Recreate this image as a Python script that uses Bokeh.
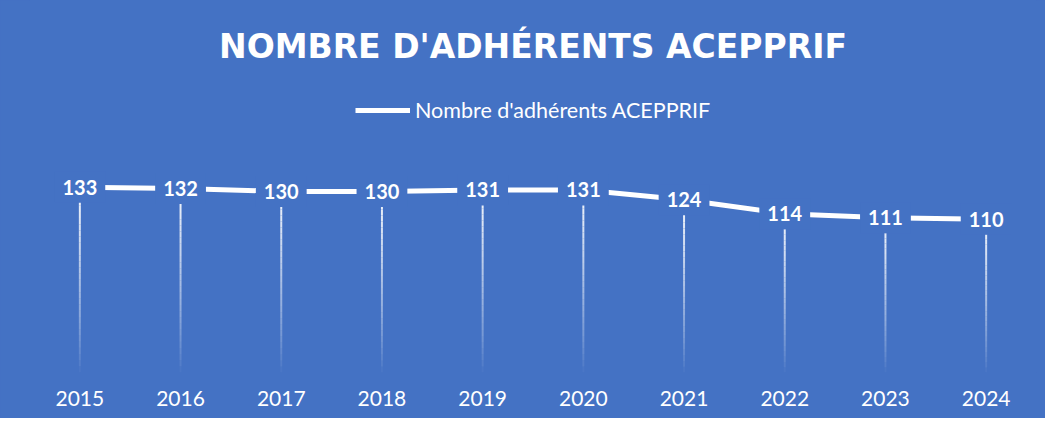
from bokeh.plotting import figure
from bokeh.models import FactorRange, Label, Legend, LegendItem, ColumnDataSource
from bokeh.core.properties import value
from bokeh.embed import file_html
from bokeh.resources import INLINE

years = ["2015", "2016", "2017", "2018", "2019", "2020", "2021", "2022", "2023", "2024"]
members = [133, 132, 130, 130, 131, 131, 124, 114, 111, 110]
series_name = "Nombre d'adhérents ACEPPRIF"
title_text = "NOMBRE D'ADHÉRENTS ACEPPRIF"

BLUE = "#4472C4"

p = figure(width=1045, height=418, x_range=FactorRange(*years, range_padding=0),
           y_range=(0, 267), output_backend="svg", toolbar_location=None,
           background_fill_color=BLUE, border_fill_color=BLUE,
           min_border_left=29, min_border_right=9, min_border_top=0, min_border_bottom=46,
           styles={"background-color": BLUE})
p.outline_line_color = None

p.grid.visible = False
p.yaxis.visible = False
p.xaxis.axis_line_color = None
p.xaxis.major_tick_line_color = None
p.xaxis.minor_tick_line_color = None
p.xaxis.major_label_text_color = "white"
p.xaxis.major_label_text_font = "Lato"
p.xaxis.major_label_text_font_size = "21px"
p.xaxis.major_label_standoff = 12

# fading drop lines (gradient approximated by stacked segments)
N = 30
xs, y0s, y1s, alphas = [], [], [], []
for yr, v in zip(years, members):
    for k in range(N):
        xs.append(yr)
        y0s.append(v * k / N)
        y1s.append(v * (k + 1) / N)
        alphas.append(0.95 * ((k + 0.5) / N) ** 0.8)
p.segment(x0=xs, y0=y0s, x1=xs, y1=y1s, line_color="white", line_alpha=alphas, line_width=2)

line = p.line(years, members, line_color="white", line_width=5)

src = ColumnDataSource(dict(x=years, y=members, t=[str(m) for m in members]))
p.text(x="x", y="y", text="t", source=src, text_color="white", text_font=value("Lato"),
       text_font_style="bold", text_font_size="20px", text_align="center",
       text_baseline="middle", background_fill_color=BLUE, padding=8)

legend = Legend(items=[LegendItem(label=series_name, renderers=[line])],
                location=(326, 249), orientation="horizontal",
                background_fill_alpha=0, border_line_color=None,
                label_text_color="white", label_text_font="Lato", label_text_font_size="21.5px",
                glyph_width=55, glyph_height=20, label_height=20, label_standoff=5,
                padding=0, margin=0, spacing=0)
p.add_layout(legend)

p.add_layout(Label(x=5, y=234, text=title_text, text_align="center", text_baseline="middle",
                   text_color="white", text_font="DejaVu Sans", text_font_style="bold",
                   text_font_size="33px"))

open("out.html", "w").write(file_html(p, INLINE))
